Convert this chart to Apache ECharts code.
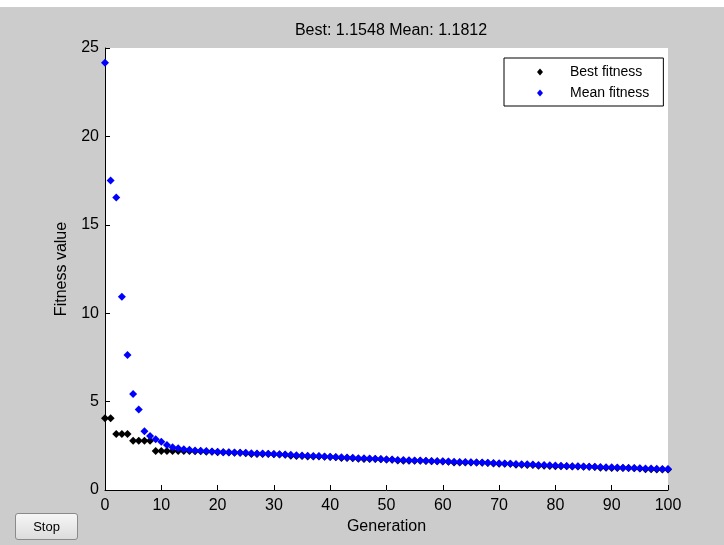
<!DOCTYPE html>
<html>
<head>
<meta charset="utf-8">
<script src="https://cdn.jsdelivr.net/npm/echarts@6/dist/echarts.min.js"></script>
<style>
html,body{margin:0;padding:0;background:#fff;width:724px;height:545px;overflow:hidden;}
#bg{position:absolute;left:0;top:7px;width:724px;height:538px;background:#cccccc;}
#chart{position:absolute;left:0;top:0;width:724px;height:545px;}
#stop{position:absolute;left:15px;top:513px;width:63px;height:27px;
  font-family:"Liberation Sans",Arial,sans-serif;font-size:13px;color:#000;
  border:1px solid #8a8a8a;border-radius:3px;
  background:linear-gradient(#f6f6f6,#dcdcdc);padding:0;}
</style>
</head>
<body>
<div id="bg"></div>
<div id="chart"></div>
<button id="stop">Stop</button>
<script>
const generations = [];
for (let g = 0; g <= 100; g++) generations.push(g);

const bestFitness = [
  4.06, 4.06, 3.17, 3.17, 3.17, 2.78, 2.78, 2.78, 2.78, 2.21,
  2.21, 2.21, 2.21, 2.21, 2.21, 2.21, 2.19, 2.19, 2.17, 2.16,
  2.14, 2.13, 2.12, 2.11, 2.10, 2.08, 2.04, 2.03, 2.03, 2.03,
  2.02, 2.01, 1.99, 1.94, 1.93, 1.92, 1.90, 1.90, 1.89, 1.88,
  1.86, 1.85, 1.81, 1.81, 1.80, 1.77, 1.76, 1.75, 1.75, 1.74,
  1.72, 1.71, 1.67, 1.66, 1.66, 1.65, 1.65, 1.64, 1.63, 1.62,
  1.61, 1.60, 1.56, 1.56, 1.56, 1.55, 1.55, 1.54, 1.53, 1.50,
  1.49, 1.49, 1.48, 1.43, 1.43, 1.42, 1.42, 1.37, 1.37, 1.36,
  1.35, 1.35, 1.34, 1.33, 1.33, 1.32, 1.31, 1.30, 1.26, 1.26,
  1.25, 1.25, 1.25, 1.24, 1.23, 1.22, 1.17, 1.17, 1.16, 1.16,
  1.1548
];

const meanFitness = [
  24.17, 17.50, 16.55, 10.93, 7.64, 5.43, 4.56, 3.32, 3.05, 2.87,
  2.73, 2.55, 2.42, 2.36, 2.31, 2.27, 2.24, 2.22, 2.20, 2.18,
  2.16, 2.14, 2.13, 2.12, 2.11, 2.10, 2.08, 2.07, 2.06, 2.05,
  2.03, 2.02, 2.01, 1.99, 1.97, 1.95, 1.94, 1.93, 1.92, 1.90,
  1.88, 1.86, 1.85, 1.84, 1.82, 1.80, 1.79, 1.78, 1.77, 1.75,
  1.73, 1.72, 1.70, 1.69, 1.68, 1.67, 1.67, 1.66, 1.64, 1.63,
  1.62, 1.61, 1.60, 1.59, 1.58, 1.57, 1.56, 1.55, 1.54, 1.53,
  1.51, 1.50, 1.49, 1.47, 1.46, 1.45, 1.44, 1.42, 1.41, 1.40,
  1.38, 1.37, 1.36, 1.35, 1.34, 1.33, 1.32, 1.31, 1.30, 1.29,
  1.28, 1.27, 1.26, 1.25, 1.24, 1.23, 1.22, 1.21, 1.20, 1.19,
  1.1812
];

const xTicks = [0, 10, 20, 30, 40, 50, 60, 70, 80, 90, 100];
const yTicks = [0, 5, 10, 15, 20, 25];
const titleText = 'Best: 1.1548 Mean: 1.1812';

const FONT = '"Liberation Sans", Arial, sans-serif';
const chart = echarts.init(document.getElementById('chart'), null, {renderer: 'canvas'});

chart.setOption({
  backgroundColor: 'transparent',
  animation: false,
  title: {
    text: titleText,
    left: 386,
    top: 18,
    textAlign: 'center',
    textStyle: {fontFamily: FONT, fontSize: 16, fontWeight: 'normal', color: '#000'}
  },
  legend: {
    orient: 'vertical',
    left: 504,
    top: 58,
    selectedMode: false,
    backgroundColor: '#fff',
    borderColor: '#000',
    borderWidth: 1,
    borderRadius: 0,
    padding: [4, 14, 3, 33],
    itemWidth: 6,
    itemHeight: 7,
    itemGap: 1,
    textStyle: {fontFamily: FONT, fontSize: 14, color: '#000', lineHeight: 20, padding: [0, 0, 0, 22]},
    data: [
      {name: 'Best fitness', icon: 'diamond', itemStyle: {color: '#000', opacity: 1}},
      {name: 'Mean fitness', icon: 'diamond', itemStyle: {color: '#0000ff', opacity: 1}}
    ]
  },
  grid: {
    left: 105, top: 48, right: 56, bottom: 55,
    show: true, backgroundColor: '#fff', borderWidth: 0,
    containLabel: false
  },
  xAxis: {
    type: 'value',
    min: xTicks[0], max: xTicks[xTicks.length - 1], interval: 10,
    name: 'Generation', nameLocation: 'middle', nameGap: 29,
    nameTextStyle: {fontFamily: FONT, fontSize: 16, color: '#000'},
    axisLine: {onZero: false, lineStyle: {color: '#000', width: 1}},
    axisTick: {inside: true, length: 5, lineStyle: {color: '#000'}},
    axisLabel: {margin: 8, fontFamily: FONT, fontSize: 16, color: '#000'},
    splitLine: {show: false}
  },
  yAxis: {
    type: 'value',
    min: yTicks[0], max: yTicks[yTicks.length - 1], interval: 5,
    name: 'Fitness value', nameLocation: 'middle', nameGap: 35,
    nameTextStyle: {fontFamily: FONT, fontSize: 16, color: '#000'},
    axisLine: {show: true, onZero: false, lineStyle: {color: '#000', width: 1}},
    axisTick: {show: true, inside: true, length: 5, lineStyle: {color: '#000'}},
    axisLabel: {margin: 6, fontFamily: FONT, fontSize: 16, color: '#000'},
    splitLine: {show: false}
  },
  series: [
    {
      name: 'Best fitness',
      type: 'scatter',
      symbol: 'diamond',
      symbolSize: [8, 8],
      itemStyle: {color: '#000', opacity: 1},
      data: generations.map((g, i) => [g, bestFitness[i]])
    },
    {
      name: 'Mean fitness',
      type: 'scatter',
      symbol: 'diamond',
      symbolSize: [8, 8],
      itemStyle: {color: '#0000ff', opacity: 1},
      data: generations.map((g, i) => [g, meanFitness[i]])
    }
  ]
});
</script>
</body>
</html>
